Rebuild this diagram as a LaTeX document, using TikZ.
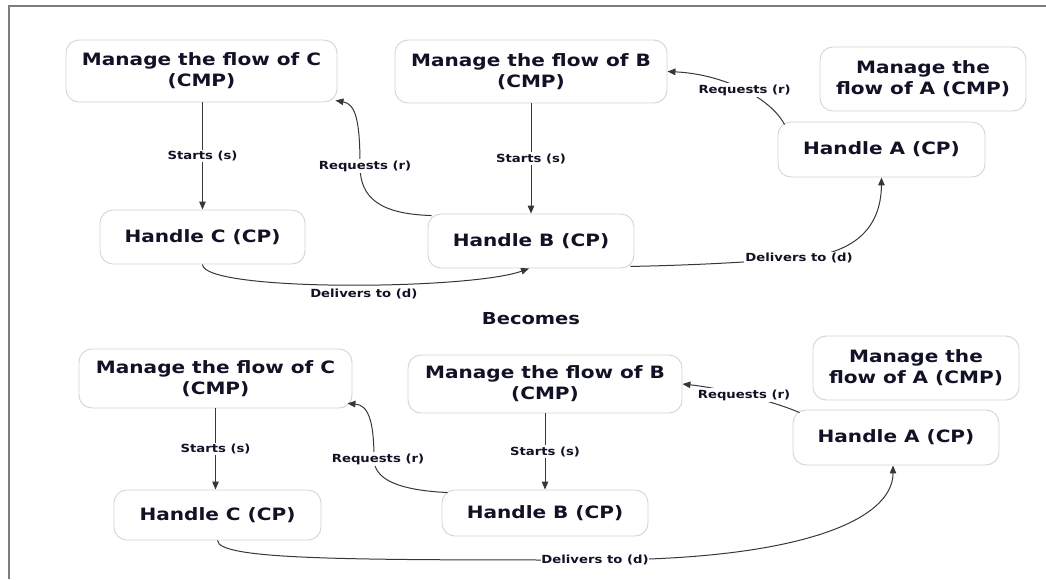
\documentclass[tikz,border=0pt]{standalone}
\usepackage{fontspec}
\usetikzlibrary{arrows.meta}
\newfontfamily\diagfont[FakeStretch=1.18]{DejaVu Sans}
\definecolor{ink}{RGB}{18,18,38}
\definecolor{boxline}{RGB}{212,212,212}
\definecolor{wire}{RGB}{55,55,55}
\definecolor{framegray}{RGB}{125,125,125}

\begin{document}
\begin{tikzpicture}[x=1pt,y=-1pt,
  box/.style={draw=boxline, line width=0.9pt, rounded corners=13pt, fill=white,
    align=center, text=ink, inner sep=0pt,
    font=\diagfont\bfseries\fontsize{17}{21}\selectfont},
  lbl/.style={fill=white, inner sep=1.5pt, text=ink,
    font=\diagfont\bfseries\fontsize{11.2}{13}\selectfont},
  link/.style={draw=wire, line width=1pt, -{Triangle[length=8pt,width=6.5pt]}},
  heading/.style={text=ink, font=\diagfont\bfseries\fontsize{16.5}{20}\selectfont},
]
\useasboundingbox (0,0) rectangle (1046,579);
% page frame
\draw[framegray, line width=1.8pt] (9,579) -- (9,6) -- (1046,6);

% ---------- upper chain ----------
\node[box, minimum width=271pt, minimum height=62pt] (mc) at (201.5,71) {Manage the flow of C\\(CMP)};
\node[box, minimum width=272pt, minimum height=63pt] (mb) at (531,71.5) {Manage the flow of B\\(CMP)};
\node[box, minimum width=206pt, minimum height=64pt] (ma) at (923,79) {Manage the\\flow of A (CMP)};
\node[box, minimum width=207pt, minimum height=55pt] (ha) at (881.5,149.5) {Handle A (CP)};
\node[box, minimum width=205pt, minimum height=54pt] (hc) at (202.5,237) {Handle C (CP)};
\node[box, minimum width=206pt, minimum height=54pt] (hb) at (531,241) {Handle B (CP)};

\draw[link] (hc.north |- mc.south) -- node[lbl] {Starts (s)} (hc.north);
\draw[link] (mb.south) -- node[lbl] {Starts (s)} (hb.north);
\draw[link] ([xshift=4pt,yshift=-2pt]hb.north west)
  .. controls (380,214) and (360,198) .. (360,166)
  node[lbl, xshift=5pt] {Requests (r)}
  .. controls (360,122) and (356,104) .. ([xshift=-2pt,yshift=2pt]mc.south east);
\draw[link] ([xshift=7pt,yshift=-3pt]ha.north west)
  .. controls (770,97) and (722,74) .. node[lbl, pos=0.47] {Requests (r)} (mb.east);
\draw[link] (hc.south) .. controls (203,292) and (470,290)
  .. node[lbl, pos=0.5, below=2pt, xshift=20pt] {Delivers to (d)} ([xshift=-2pt]hb.south);
\draw[link] ([xshift=-4pt,yshift=2pt]hb.south east)
  .. controls (700,265) and (750,262) .. (799,258)
  node[lbl] {Delivers to (d)}
  .. controls (852,254) and (881,230) .. (ha.south);

\node[heading] (becomes) at (531,319) {Becomes};

% ---------- lower chain ----------
\node[box, minimum width=273pt, minimum height=59pt] (mc2) at (215.5,378.5) {Manage the flow of C\\(CMP)};
\node[box, minimum width=274pt, minimum height=58pt] (mb2) at (545,384) {Manage the flow of B\\(CMP)};
\node[box, minimum width=206pt, minimum height=64pt] (ma2) at (916,368) {Manage the\\flow of A (CMP)};
\node[box, minimum width=206pt, minimum height=55pt] (ha2) at (896,437.5) {Handle A (CP)};
\node[box, minimum width=207pt, minimum height=50pt] (hc2) at (217.5,515) {Handle C (CP)};
\node[box, minimum width=206pt, minimum height=46pt] (hb2) at (545,513) {Handle B (CP)};

\draw[link] (mc2.south) -- node[lbl] {Starts (s)} (mc2.south |- hc2.north);
\draw[link] (mb2.south) -- node[lbl] {Starts (s)} (hb2.north);
\draw[link] ([xshift=6pt,yshift=-3pt]hb2.north west)
  .. controls (395,490) and (374,478) .. (374,459)
  node[lbl, xshift=4pt] {Requests (r)}
  .. controls (374,420) and (368,405) .. ([xshift=-5pt,yshift=5pt]mc2.south east);
\draw[link] ([xshift=7pt,yshift=-3pt]ha2.north west)
  .. controls (770,400) and (720,388) .. node[lbl, pos=0.5] {Requests (r)} (mb2.east);
\draw[link] (hc2.south) .. controls (218,560) and (350,560) .. (595,560)
  node[lbl, inner sep=0pt] {Delivers to (d)}
  .. controls (800,560) and (893,520) .. ([xshift=-3pt]ha2.south);
\end{tikzpicture}
\end{document}
